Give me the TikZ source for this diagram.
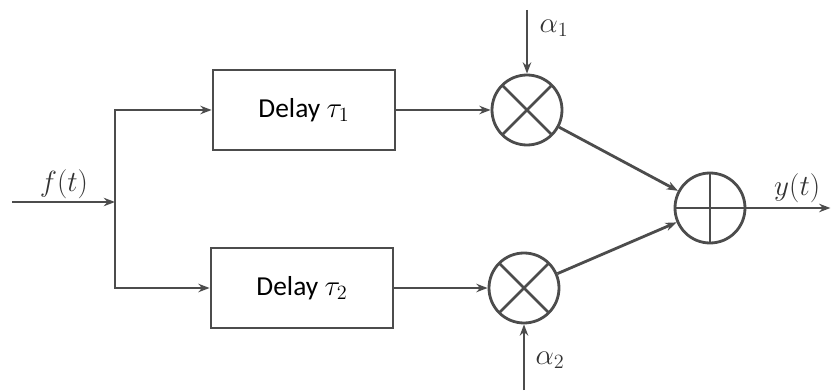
\documentclass[tikz,border=0pt]{standalone}
\usepackage{fontspec}
\newfontfamily\blockfont{Carlito}
\usetikzlibrary{arrows.meta, positioning}

\begin{document}
\begin{tikzpicture}[
  >={Stealth[length=8pt, width=6pt]},
  line width=2pt, draw=black!70,
  font=\fontsize{20}{24}\selectfont,
  block/.style={rectangle, draw=black!70, minimum width=4.55cm, minimum height=2cm,
    font=\blockfont\fontsize{19.5}{22}\selectfont},
  mult/.style={circle, draw=black!70, minimum size=1.75cm, inner sep=0pt,
    path picture={
      \draw[black!70, line width=2pt] (path picture bounding box.north west) -- (path picture bounding box.south east)
        (path picture bounding box.north east) -- (path picture bounding box.south west);}},
  adder/.style={circle, draw=black!70, minimum size=1.75cm, inner sep=0pt,
    path picture={
      \draw[black!70, line width=2pt] (path picture bounding box.north) -- (path picture bounding box.south)
        (path picture bounding box.west) -- (path picture bounding box.east);}},
  arr/.style={->, line width=2pt, draw=black!70},
  sig/.style={text=black!80, inner sep=0pt},
]
  \useasboundingbox (0,0) rectangle (20.775,9.75);

  % Input and branch point
  \coordinate (in) at (0.3, 4.7);
  \coordinate (jn) at (2.875, 4.7);

  % Delay blocks
  \node[block] (d1) at (7.6, 7.0) {Delay $\tau_1$};
  \node[block] (d2) at (7.55, 2.55) {Delay $\tau_2$};

  % Multipliers and adder
  \node[mult] (m1) at (13.175, 7.0) {};
  \node[mult] (m2) at (13.1, 2.55) {};
  \node[adder] (sum) at (17.75, 4.55) {};

  % Gain inputs and output
  \coordinate (a1) at (13.175, 9.5);
  \coordinate (a2) at (13.1, 0);
  \coordinate (out) at (20.76, 4.55);

  % Connections
  \draw[arr] (in) -- (jn);
  \draw[arr] (jn) |- (d1);
  \draw[arr] (jn) |- (d2);
  \draw[arr] (d1) -- (m1);
  \draw[arr] (d2) -- (m2);
  \draw[arr] (a1) -- (m1);
  \draw[arr] (a2) -- (m2);
  \draw[arr] (m1) -- (sum);
  \draw[arr] (m2) -- (sum);
  \draw[arr] (sum) -- (out);

  % Signal labels
  \node[sig] (fl) at (1.6, 5.15) {$f(t)$};
  \node[sig] (yl) at (19.93, 5.05) {$y(t)$};
  \node[sig] (al1) at (13.85, 9.05) {$\alpha_1$};
  \node[sig] (al2) at (13.75, 0.75) {$\alpha_2$};

\end{tikzpicture}
\end{document}
